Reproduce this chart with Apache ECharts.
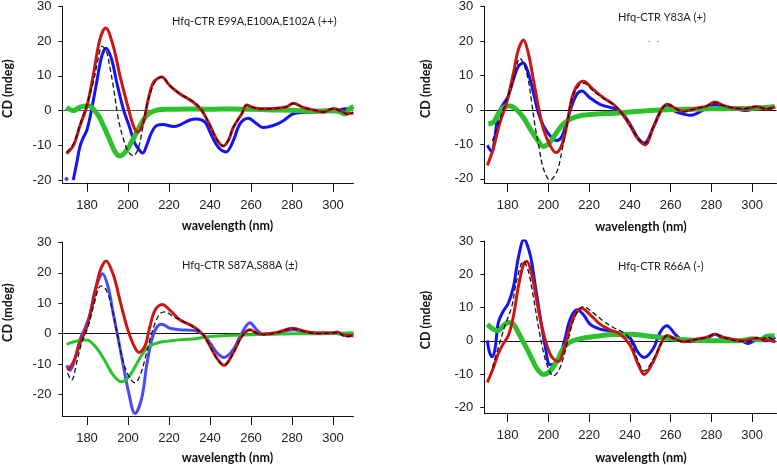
<!DOCTYPE html>
<html><head><meta charset="utf-8">
<script src="https://cdn.jsdelivr.net/npm/echarts@6/dist/echarts.min.js"></script>
<style>html,body{margin:0;padding:0;background:#fff}#c{width:777px;height:465px}</style>
</head><body><div id="c"></div>
<script>
// ---- data (wavelength nm, CD mdeg) ----
const xTicks = [180, 200, 220, 240, 260, 280, 300];
const yTicks = [-20, -10, 0, 10, 20, 30];
const titles = ['Hfq-CTR E99A,E100A,E102A (++)', 'Hfq-CTR Y83A (+)', 'Hfq-CTR S87A,S88A (\u00b1)', 'Hfq-CTR R66A (-)'];

// Panel 1: E99A,E100A,E102A
const p1Red = [[170,-12.4],[173.4,-10],[176.6,-4.3],[180,1.4],[183,10],[186.3,20.5],[189.1,23.8],[192.8,18.6],[196.1,10],[199.4,2.4],[202.6,-4.3],[204.7,-6.2],[207.5,-3.3],[209.9,3.3],[212.4,8.1],[216.4,9.7],[220.5,7.1],[225.4,4.8],[231.9,2.4],[236,0],[240,-4.3],[243.5,-8.5],[246.5,-10.2],[249,-8.5],[251.4,-4.8],[255.5,-0.9],[257.9,1.6],[261.1,0.9],[264.4,0.5],[270.9,0.6],[277.4,1.1],[280.6,2.1],[285.5,0.9],[290.4,0.2],[295.3,-0.4],[300.2,0.6],[305,-0.4],[307,-0.9],[309.9,-0.7]];
const p1Dash = [[170,-12],[173.4,-9.5],[176.6,-4],[180,2],[183,8],[185.5,15],[187.3,18.6],[189.5,17],[191,13],[192.8,7.1],[195.3,-2.4],[197.7,-8.1],[200.2,-11.9],[202.6,-13],[205,-10.9],[207.1,-5.2],[209.1,1.4],[211.6,6.2],[213.5,8.5],[216.4,9.7],[220.5,7.1],[225.4,4.8],[231.9,2.6],[236,0.2],[240,-4.3],[243.5,-8.5],[246.5,-10.2],[249,-8.5],[251.4,-4.8],[255.5,-0.9],[257.9,1.6],[261.1,0.9],[264.4,0.5],[270.9,0.6],[277.4,1.1],[280.6,2.0],[285.5,0.9],[290.4,0.2],[295.3,-0.4],[300.2,0.6],[305,-0.6],[307,-1.1],[309.9,-0.5]];
const p1BlueDot = [[170,-19.7]];
const p1Blue = [[173.3,-20],[175,-15],[176.5,-10.5],[178,-8],[180,-5.5],[182.3,0.5],[184.7,8.1],[187.2,15.7],[189.3,18],[192,14.8],[194.5,8.1],[197.7,0.5],[201,-5.2],[203.4,-9.5],[206.3,-11.9],[207.3,-12.2],[209.1,-10],[211.6,-6.2],[214,-4.3],[217.2,-4],[222.1,-4.6],[225.4,-4.1],[230.2,-2.7],[233.5,-2.4],[237.6,-3.3],[240,-6.2],[244,-10.5],[247.8,-11.9],[251.4,-8.6],[254.6,-3.8],[258.7,-2.2],[262.8,-3.8],[266,-4.9],[270.9,-4.3],[275.8,-2.9],[280.6,-0.9],[287,-0.5],[293.5,-0.3],[300,-0.3],[305,0.5],[308,0.6]];
const p1Green = [[170,0.95],[173.3,0],[176.6,1],[180.6,1.4],[184.7,-0.7],[188,-4.3],[191.2,-8.6],[193.7,-11.9],[196.1,-13.1],[199.4,-11.4],[202.6,-8.1],[205.9,-4.3],[209.1,-1.4],[213.2,0],[220.5,0.4],[230,0.5],[240,0.4],[250,0.5],[260,0.4],[270,0.2],[280,0.1],[290,-0.2],[298,0],[303,-0.3],[306,-1],[308,0.5],[310,1.2]];

// Panel 2: Y83A
const p2Red = [[170,-16.1],[172.9,-11.3],[176.2,-3.6],[179.5,2.1],[182.8,10.7],[185.2,17.4],[187.7,20.3],[190.1,16.5],[192.6,8.8],[195,1.1],[197.5,-5.5],[200.8,-10.3],[203.7,-12.4],[206.5,-10.3],[209,-4.6],[211.4,3.1],[213.9,6.9],[217.1,8.3],[222,5.9],[227,3.5],[231.9,1.6],[236,-1],[240.1,-4.6],[244,-8.5],[247.4,-10.1],[251.5,-5.1],[255.6,0.2],[258.6,1.6],[263,0.2],[266.3,-0.4],[272.8,0.5],[277.7,1.1],[281.8,2.3],[285.9,1.3],[290.8,0.5],[295.7,0.2],[302.3,0.9],[307,0.2],[311.4,0.9]];
const p2Dash = [[172.5,-9],[176.2,-2.5],[179.5,3],[182.8,8.8],[186,15],[189.3,10.7],[191.8,2.1],[193.4,-4.6],[195.5,-11.3],[197.5,-17],[200.8,-20.4],[204.1,-18],[206.5,-12.3],[209,-4.6],[211.4,3],[215.5,7.4],[217.5,7.7],[222,5.5],[227,3.3],[231.9,1.5],[236,-0.8],[240.1,-4.5],[244,-8.3],[247.4,-9.8],[251.5,-5],[255.6,0.2],[258.6,1.6],[263,0.2],[266.3,-0.6],[272.8,0.4],[277.7,1.1],[281.8,2.1],[285.9,1.2],[290.8,0.6],[295.7,0.3],[302.3,1],[307,0.3],[311.4,0.9]];
const p2Blue = [[170,-10.3],[172.1,-12.1],[173.8,-7.5],[175.4,-0.8],[177.8,1.6],[180.3,4],[182.8,8.8],[185.2,12.6],[187.7,13.6],[190.1,10.7],[192.6,5],[195,-0.8],[197.5,-4.6],[200.8,-7.5],[204.1,-8.9],[206.5,-7.8],[209,-3.6],[211.4,1.1],[213.9,4.5],[216.3,5.5],[220.4,3.5],[225.3,1.6],[230.2,0.7],[235.2,-0.3],[240,-4.1],[244,-8.2],[247.2,-9.6],[251.5,-5],[255.6,0],[258.6,1.4],[262.5,-0.5],[266.3,-1.2],[269.6,-1.6],[273,-1],[277.7,0.5],[281.8,1.5],[285.9,1],[290.8,0.5],[297,-0.2],[303,0.5],[310,0.5]];
const p2Green = [[170.5,-4.1],[172.9,-3.6],[175.4,-1.2],[177.8,0.7],[181.1,1.1],[184.4,0],[187.7,-2.2],[191,-5.5],[194.2,-8.4],[197.5,-10.6],[200.8,-9.4],[204.1,-6.5],[207.3,-4.1],[210.6,-2.7],[215.5,-1.7],[223.7,-1.2],[231.9,-1],[240.1,-0.6],[250,-0.2],[260,0.1],[270,0.2],[280,0.3],[290,0.4],[300,0.5],[306,0.7],[311,1]];

// Panel 3: S87A,S88A
const p3Red = [[170.4,-12],[173.3,-9.4],[176.6,-3],[180,2.4],[183.1,10.9],[186.3,20.4],[189.3,23.9],[192.8,19.4],[196.1,10.9],[199.4,2.4],[202.6,-3.5],[205.4,-6.2],[208.3,-4],[210.7,2.4],[213.2,7.7],[216.7,9.6],[220.5,7.7],[225.4,4.5],[231.9,2.4],[236.7,-0.3],[240,-4],[243.5,-8.2],[246.8,-10.4],[251.4,-6.2],[255.5,-0.8],[259.5,1.3],[262.8,0.2],[266,-0.1],[272.5,0.4],[280.6,1.8],[285.5,0.9],[292,0.2],[300,0.2],[302,0.6],[305,-0.4],[310,-0.7]];
const p3Dash = [[170.5,-13],[172.5,-15.2],[175,-9.4],[177.4,-3],[180.6,2.4],[183.1,8.8],[186.8,15.7],[189.6,14.1],[192.8,6.6],[195.3,-1.9],[197.7,-9.4],[201,-14.7],[203.4,-16.1],[205.9,-13.6],[208.3,-8.3],[210.7,-1.9],[213.2,3.4],[215.6,6.6],[218,7.2],[222.1,5.6],[227,4],[231.9,2],[236.7,-0.3],[240,-4.2],[243.5,-8.3],[246.8,-10.3],[251.4,-6.3],[255.5,-1],[259.5,1.2],[262.8,0.2],[266,-0.3],[272.5,0.3],[280.6,1.6],[285.5,0.8],[292,0],[300,0.3],[303,0.4],[305,-0.8],[307,-1],[310,-0.3]];
const p3Blue = [[170.1,-10.4],[171.7,-12],[174.1,-8.3],[176.6,-1.9],[179,1.8],[181.5,6.6],[183.9,14.1],[187.6,19.7],[190.4,15.1],[192.8,6.6],[195.3,-1.9],[197.7,-10.4],[200.2,-18.9],[203.4,-26.2],[206.7,-21.1],[209.1,-10.4],[211.6,-1.9],[214,2.1],[216.4,3.1],[220.5,1.8],[225.4,1.3],[231.9,1.1],[236.7,-0.3],[240,-3],[243.5,-6.3],[246.8,-7.8],[251.4,-5.1],[255.5,0.2],[259.5,3.6],[262.8,1.3],[266,-0.2],[272.5,0.2],[280.6,1.3],[286,0.6],[292,0.2],[300,0.2],[305,-0.2],[310,0]];
const p3Green = [[170.1,-3.5],[175,-2.4],[180,-2.1],[183.1,-3.5],[186.3,-6.2],[189.6,-9.9],[192.8,-13.6],[196.9,-15.8],[201,-13.6],[204.2,-9.9],[207.5,-6.2],[210.7,-4],[215.6,-2.8],[223.7,-2.1],[231.9,-1.7],[240,-0.9],[250,-0.5],[260,-0.3],[270,-0.2],[280,0],[290,0],[300,0.1],[310,0.3]];

// Panel 4: R66A
const p4Red = [[170,-12.5],[172.9,-8.2],[175.4,-3.8],[177.8,-0.9],[180.3,1.6],[182.8,7.4],[185.2,16.2],[187.7,22.9],[189.3,23.9],[191.8,20],[194.2,12.2],[196.7,4.5],[199.2,-1.3],[201.6,-4.8],[204.9,-6.2],[207.3,-3.3],[209.8,2.5],[213.1,7.9],[216.3,9.8],[220.4,7.9],[225.3,5],[230.2,3.3],[235.2,2],[240.1,-1.3],[244,-7],[247,-10.1],[251.5,-6.2],[255.6,-0.4],[258.1,1.6],[262.2,0.6],[266.3,-0.3],[272.8,0.5],[277.7,1.1],[281.8,2],[285.9,1.1],[295.7,0],[302.3,0.8],[307,0.3],[311.4,-0.3]];
const p4Dash = [[172.5,-8],[176.2,-0.4],[178.6,4.5],[182,10.3],[184.4,18.1],[187.7,23.9],[190.1,21],[192.6,13.2],[195,4.5],[197.5,-3.3],[199.9,-8.2],[202.4,-10.6],[204.9,-9.1],[207.3,-5.2],[209.8,0.6],[213.1,7.4],[217.1,10.3],[222,8.4],[227,5.9],[231.9,4],[236.8,2.5],[240.1,0.4],[244,-6],[247,-9.1],[251.5,-5.5],[255.6,-0.5],[258.1,1.5],[262.2,0.5],[266.3,-0.3],[272.8,0.4],[277.7,1],[281.8,2],[285.9,1],[295.7,-0.2],[300,0],[302,1],[305,0.3],[307,1.2],[310,0.5]];
const p4Blue = [[170,0.1],[171,-3.3],[172.4,-4.8],[173.8,-2.3],[175.4,5.5],[177.8,8.9],[180.3,11.3],[182.8,16.2],[185.2,24.9],[188,30.5],[191,25.9],[193.4,17.1],[195.9,7.4],[198.3,-1.3],[200.8,-7.2],[203.2,-6.7],[205.7,-4.3],[208.1,0.6],[210.6,6.4],[213.9,9.3],[217.1,7.9],[220.4,5],[225.3,3.5],[230.2,3],[235.2,2.2],[240.1,0.8],[244,-3.5],[247,-5],[251.5,-2.3],[254.8,2.5],[258.1,4.5],[262.2,2],[265.4,0.3],[269.5,-0.3],[277.7,0.8],[281.8,2],[285.9,0.8],[295.7,-0.3],[298,-0.8],[302.3,0.2],[307,0],[311.4,1]];
const p4Green = [[170,5],[172.9,3.5],[175.4,3],[177.8,4.5],[180.3,5.5],[182.8,5],[185.2,2.5],[187.7,-0.4],[191,-4.3],[194.2,-8.2],[197.5,-10.1],[200.8,-9.1],[204.1,-6.2],[207.3,-2.3],[210.6,-0.4],[215.5,0.6],[223.7,1.4],[231.9,1.9],[240.1,2],[247,1.6],[255,1],[265,0.4],[275,0.1],[285,0],[295,0.1],[300,0.6],[304,0.3],[307,1.3],[311,1.5]];

// ---- layout ----
const panels = [
  {grid:{left:62.4, top:5, width:291.1, height:177.8}, x:[168,310], y:[-20.8,30], red:p1Red, dash:p1Dash, blue:p1Blue, green:p1Green, blueC:'#1414f2', greenW:5, zeroC:'#555',
   xName:{gap:37, pad:39}, yName:{gap:48, pad:12}},
  {grid:{left:484.3, top:5, width:292.2, height:177.9}, x:[168.5,312], y:[-21.2,30], red:p2Red, dash:p2Dash, blue:p2Blue, green:p2Green, blueC:'#1414f2', greenW:5, zeroC:'#111',
   xName:{gap:38, pad:21}, yName:{gap:52, pad:12}},
  {grid:{left:62.4, top:242.3, width:291.1, height:178.3}, x:[168,310], y:[-27,30], red:p3Red, dash:p3Dash, blue:p3Blue, green:p3Green, blueC:'#4a4cf2', greenW:3, zeroC:'#111',
   xName:{gap:35, pad:39}, yName:{gap:48, pad:33}},
  {grid:{left:484.3, top:241, width:292.2, height:176.8}, x:[168.5,312], y:[-21.7,30], red:p4Red, dash:p4Dash, blue:p4Blue, green:p4Green, blueC:'#1414f2', greenW:5, zeroC:'#111',
   xName:{gap:38, pad:21}, yName:{gap:52, pad:14}}
];
const titlePos = [[172,16],[618,12],[182,260],[618,261]];

const nameStyle = {fontFamily:'Lato', fontWeight:'bold', fontSize:12.5, color:'#111'};
const labelStyle = {fontFamily:'Liberation Sans', fontSize:13, color:'#222'};

const grids=[], xAxes=[], yAxes=[], series=[], title=[];
panels.forEach((p,i)=>{
  grids.push(Object.assign({containLabel:false}, p.grid));
  xAxes.push({type:'value', gridIndex:i, min:p.x[0], max:p.x[1],
    name:'wavelength (nm)', nameLocation:'middle', nameGap:p.xName.gap,
    nameTextStyle:Object.assign({padding:[0,0,0,p.xName.pad]}, nameStyle),
    axisLine:{onZero:false, lineStyle:{color:'#111', width:1}},
    axisTick:{customValues:xTicks, length:9, lineStyle:{color:'#111'}},
    axisLabel:Object.assign({customValues:xTicks, margin:16}, labelStyle),
    splitLine:{show:false}});
  yAxes.push({type:'value', gridIndex:i, min:p.y[0], max:p.y[1],
    name:'CD (mdeg)', nameLocation:'middle', nameGap:p.yName.gap,
    nameTextStyle:Object.assign({padding:[0,0,0,p.yName.pad]}, nameStyle),
    axisLine:{show:true, onZero:false, lineStyle:{color:'#111', width:1}},
    axisTick:{show:true, customValues:yTicks, length:4, lineStyle:{color:'#111'}},
    axisLabel:Object.assign({customValues:yTicks, margin:11}, labelStyle),
    splitLine:{show:false}});
  const base = {type:'line', xAxisIndex:i, yAxisIndex:i, symbol:'none', smooth:0.35, animation:false, silent:true};
  series.push(Object.assign({}, base, {name:'blue'+i, data:p.blue, z:2, lineStyle:{color:p.blueC, width:3}}));
  series.push(Object.assign({}, base, {name:'green'+i, data:p.green, z:3, lineStyle:{color:'#2dc22d', width:p.greenW},
    markLine:{silent:true, symbol:'none', label:{show:false}, lineStyle:{color:p.zeroC, width:1.2, type:'solid'}, data:[{yAxis:0}], z:1}}));
  series.push(Object.assign({}, base, {name:'red'+i, data:p.red, z:4, lineStyle:{color:'#cc1616', width:3}}));
  series.push(Object.assign({}, base, {name:'dash'+i, data:p.dash, z:5, lineStyle:{color:'#111', width:1.3, type:[5,3]}}));
  title.push({text:titles[i], left:titlePos[i][0], top:titlePos[i][1], padding:0,
    textStyle:{fontFamily:'Lato', fontWeight:'normal', fontSize:11, color:'#222'}});
});
series.push({type:'scatter', xAxisIndex:0, yAxisIndex:0, data:p1BlueDot, symbolSize:4, itemStyle:{color:'#1414f2'}, animation:false, silent:true});
title.push({text:'.   .', left:648, top:35, padding:0, textStyle:{fontFamily:'Lato', fontWeight:'normal', fontSize:9, color:'#555'}});

const chart = echarts.init(document.getElementById('c'), null, {renderer:'canvas'});
chart.setOption({backgroundColor:'#fff', animation:false, title, grid:grids, xAxis:xAxes, yAxis:yAxes, series});
</script></body></html>
